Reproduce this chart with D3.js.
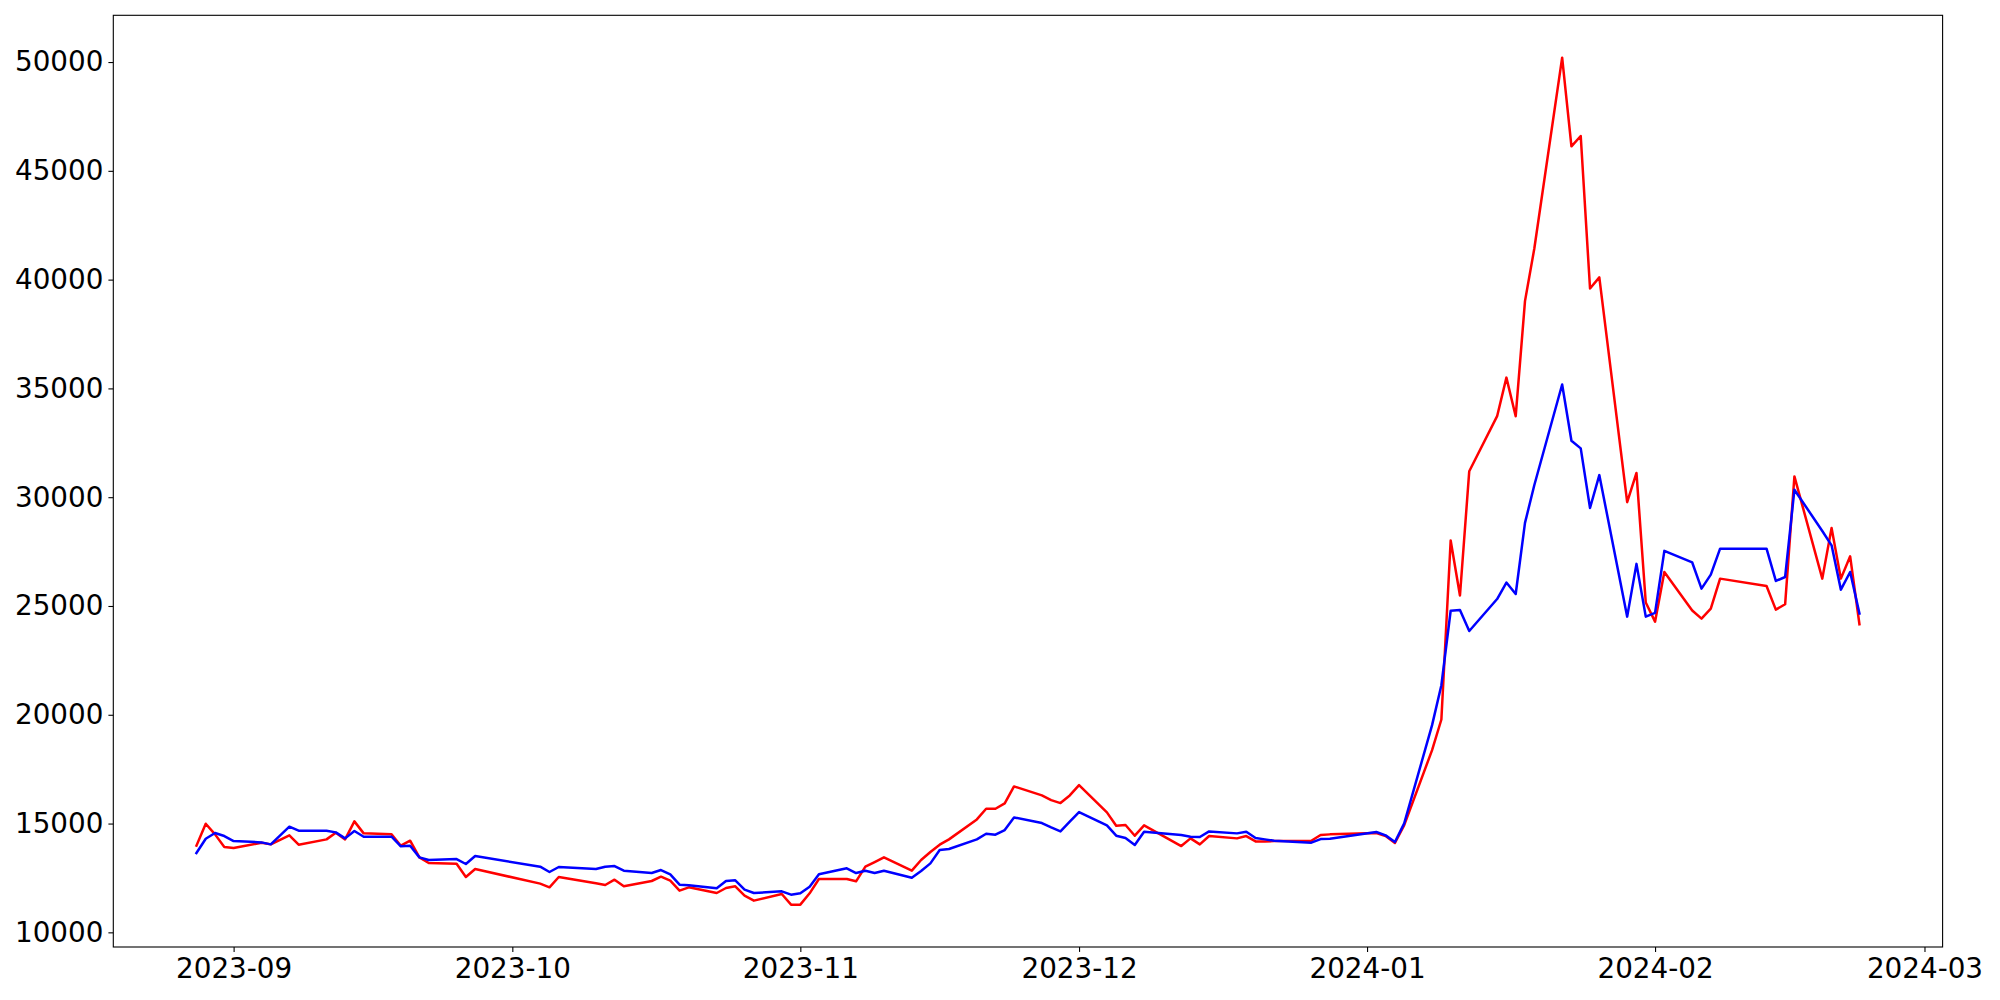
<!DOCTYPE html>
<html>
<head>
<meta charset="utf-8">
<script src="https://cdn.jsdelivr.net/npm/d3@7"></script>
<style>
  html, body { margin: 0; padding: 0; background: #ffffff; }
  svg { display: block; }
</style>
</head>
<body>
<div id="chart"></div>
<script>
// ---------------- data ----------------
const dates = [
  "2023-08-28","2023-08-29","2023-08-30","2023-08-31","2023-09-01",
  "2023-09-04","2023-09-05","2023-09-07","2023-09-08",
  "2023-09-11","2023-09-12","2023-09-13","2023-09-14","2023-09-15",
  "2023-09-18","2023-09-19","2023-09-20","2023-09-21","2023-09-22",
  "2023-09-25","2023-09-26","2023-09-27",
  "2023-10-04","2023-10-05","2023-10-06",
  "2023-10-10","2023-10-11","2023-10-12","2023-10-13",
  "2023-10-16","2023-10-17","2023-10-18","2023-10-19","2023-10-20",
  "2023-10-23","2023-10-24","2023-10-25","2023-10-26","2023-10-27",
  "2023-10-30","2023-10-31","2023-11-01","2023-11-02","2023-11-03",
  "2023-11-06","2023-11-07","2023-11-08","2023-11-09","2023-11-10",
  "2023-11-13","2023-11-14","2023-11-15","2023-11-16","2023-11-17",
  "2023-11-20","2023-11-21","2023-11-22","2023-11-23","2023-11-24",
  "2023-11-27","2023-11-28","2023-11-29","2023-11-30","2023-12-01",
  "2023-12-04","2023-12-05","2023-12-06","2023-12-07","2023-12-08",
  "2023-12-12","2023-12-13","2023-12-14","2023-12-15",
  "2023-12-18","2023-12-19","2023-12-20","2023-12-21","2023-12-22",
  "2023-12-26","2023-12-27","2023-12-28",
  "2024-01-02","2024-01-03","2024-01-04","2024-01-05",
  "2024-01-08","2024-01-09","2024-01-10","2024-01-11","2024-01-12",
  "2024-01-15","2024-01-16","2024-01-17","2024-01-18","2024-01-19",
  "2024-01-22","2024-01-23","2024-01-24","2024-01-25","2024-01-26",
  "2024-01-29","2024-01-30","2024-01-31","2024-02-01","2024-02-02",
  "2024-02-05","2024-02-06","2024-02-07","2024-02-08",
  "2024-02-13","2024-02-14","2024-02-15","2024-02-16",
  "2024-02-19","2024-02-20","2024-02-21","2024-02-22","2024-02-23"
];

const redValues = [
  13982,14993,14503,13921,13875,
  14120,14044,14457,14028,
  14273,14579,14273,15100,14549,
  14503,13983,14212,13447,13186,
  13156,12544,12911,
  12238,12069,12544,
  12253,12176,12421,12115,
  12360,12559,12375,11916,12069,
  11809,12039,12115,11687,11457,
  11763,11273,11273,11794,12452,
  12452,12345,13018,13232,13447,
  12834,13324,13692,14028,14273,
  15191,15681,15681,15926,16707,
  16293,16079,15941,16293,16768,
  15513,14901,14932,14442,14916,
  13967,14319,14044,14426,
  14319,14426,14181,14181,14196,
  14212,14472,14503,
  14564,14426,14105,14928,
  18375,19783,28012,25482,31194,
  33724,35496,33724,39013,41419,
  50202,46125,46602,39591,40101,
  29770,31115,25160,24280,26560,
  24790,24420,24880,26257,
  25920,24833,25078,30956,
  26257,28583,26257,27282,24160
];

const blueValues = [
  13646,14304,14564,14426,14197,
  14135,14044,14855,14671,
  14671,14595,14319,14656,14396,
  14396,13952,13983,13447,13324,
  13370,13141,13508,
  13018,12773,13003,
  12911,13018,13049,12834,
  12727,12865,12666,12192,12161,
  12023,12360,12391,11962,11809,
  11886,11733,11794,12100,12666,
  12942,12727,12834,12727,12834,
  12513,12819,13171,13783,13829,
  14273,14533,14487,14702,15283,
  15023,14824,14640,15084,15528,
  14916,14442,14334,14013,14625,
  14472,14396,14380,14640,
  14549,14625,14334,14273,14212,
  14120,14288,14304,
  14610,14457,14151,15008,
  19523,21359,24780,24820,23850,
  25320,26076,25550,28820,30550,
  35179,32594,32245,29504,31015,
  24510,26935,24510,24686,27533,
  27000,25798,26441,27634,
  27634,26150,26333,30343,
  28449,27787,25752,26563,24650
];

const yTickValues = [10000,15000,20000,25000,30000,35000,40000,45000,50000];
const xTickLabelFormat = "%Y-%m";
const seriesColors = ["#ff0000", "#0000ff"];

// ---------------- layout ----------------
const W = 2000, H = 1000;
const plot = { left: 113.3, right: 1942.6, top: 15.3, bottom: 947 };
const fontPx = 27.8;

const parse = d3.utcParse("%Y-%m-%d");
const X = dates.map(parse);

const svg = d3.select("#chart").append("svg")
  .attr("width", W).attr("height", H)
  .style("background", "#ffffff");

// matplotlib-like 5% margins
const xMin = d3.min(X), xMax = d3.max(X);
const xPad = (xMax - xMin) * 0.05;
const allVals = redValues.concat(blueValues);
const yMin = d3.min(allVals), yMax = d3.max(allVals);
const yPad = (yMax - yMin) * 0.05;

const x = d3.scaleUtc()
  .domain([new Date(+xMin - xPad), new Date(+xMax + xPad)])
  .range([plot.left, plot.right]);
const y = d3.scaleLinear()
  .domain([yMin - yPad, yMax + yPad])
  .range([plot.bottom, plot.top]);

// lines
const lineGen = d3.line()
  .x(d => x(d[0]))
  .y(d => y(d[1]));

const series = [redValues, blueValues];
series.forEach((vals, i) => {
  svg.append("path")
    .datum(X.map((dt, k) => [dt, vals[k]]))
    .attr("fill", "none")
    .attr("stroke", seriesColors[i])
    .attr("stroke-width", 2.5)
    .attr("stroke-linejoin", "round")
    .attr("stroke-linecap", "square")
    .attr("d", lineGen);
});

// frame
svg.append("rect")
  .attr("x", plot.left).attr("y", plot.top)
  .attr("width", plot.right - plot.left)
  .attr("height", plot.bottom - plot.top)
  .attr("fill", "none")
  .attr("stroke", "#000")
  .attr("stroke-width", 1.1);

// axes
const xAxis = d3.axisBottom(x)
  .ticks(d3.utcMonth.every(1))
  .tickFormat(d3.utcFormat(xTickLabelFormat))
  .tickSize(4.9)
  .tickPadding(6.7);

const gx = svg.append("g")
  .attr("transform", `translate(0,${plot.bottom})`)
  .call(xAxis);

const yAxis = d3.axisLeft(y)
  .tickValues(yTickValues)
  .tickFormat(d3.format("d"))
  .tickSize(4.9)
  .tickPadding(5);

const gy = svg.append("g")
  .attr("transform", `translate(${plot.left},0)`)
  .call(yAxis);

[gx, gy].forEach(g => {
  g.select(".domain").remove();
  g.selectAll(".tick line").attr("stroke", "#000").attr("stroke-width", 1.1);
  g.selectAll(".tick text")
    .attr("fill", "#000")
    .style("font-family", "'DejaVu Sans', sans-serif")
    .style("font-size", fontPx + "px");
});
</script>
</body>
</html>
